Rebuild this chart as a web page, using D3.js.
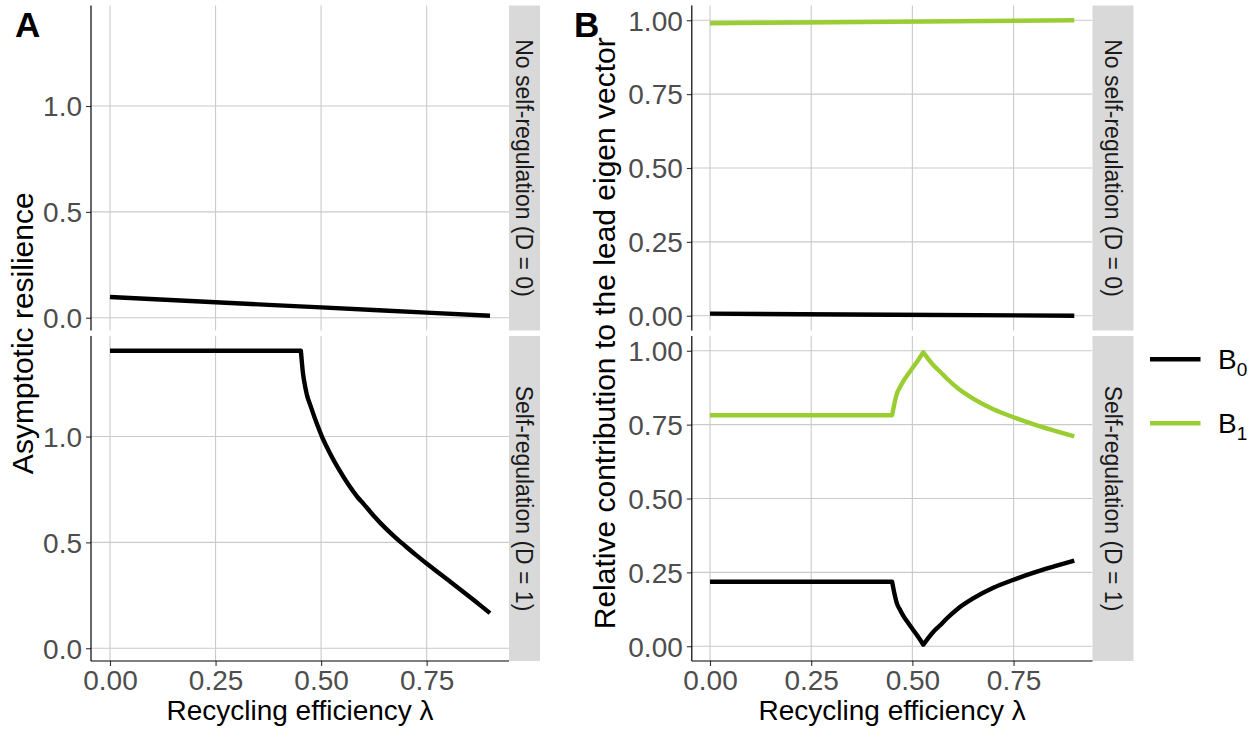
<!DOCTYPE html>
<html>
<head>
<meta charset="utf-8">
<script src="https://cdn.jsdelivr.net/npm/d3@7"></script>
<style>
  html, body { margin: 0; padding: 0; background: #fff; }
  svg { display: block; font-family: "Liberation Sans", Arial, Helvetica, sans-serif; }
</style>
</head>
<body>
<svg id="chart" width="1257" height="729"></svg>
<script>
// ---------------- DATA ----------------
const xTicks = [0, 0.25, 0.5, 0.75];
const xTickLabels = ["0.00", "0.25", "0.50", "0.75"];
const yTicksA = [0, 0.5, 1.0];
const yTickLabelsA = ["0.0", "0.5", "1.0"];
const yTicksB = [0, 0.25, 0.5, 0.75, 1.0];
const yTickLabelsB = ["0.00", "0.25", "0.50", "0.75", "1.00"];
const facetLabels = ["No self-regulation (D = 0)", "Self-regulation (D = 1)"];
const seriesNames = ["B0", "B1"];
const seriesColors = ["#000000", "#9ACD32"];

// Panel A, D = 0 (asymptotic resilience)
const lambdaA0 = [0, 0.25, 0.5, 0.75, 0.9];
const resilienceA0 = [0.098, 0.073, 0.049, 0.024, 0.0095];
// Panel A, D = 1
const lambdaA1 = [0, 0.452, 0.454, 0.457, 0.46, 0.466, 0.476, 0.49, 0.502, 0.52, 0.544, 0.565, 0.587, 0.6, 0.625, 0.65, 0.675, 0.7, 0.725, 0.75, 0.775, 0.8, 0.825, 0.85, 0.875, 0.9];
const resilienceA1 = [1.405, 1.405, 1.36, 1.30, 1.26, 1.20, 1.139, 1.06, 1.0, 0.925, 0.839, 0.772, 0.712, 0.683, 0.625, 0.572, 0.525, 0.482, 0.44, 0.40, 0.361, 0.323, 0.285, 0.246, 0.206, 0.166];
// kinks (lambda values) where the curve changes regime
const breaksA1 = [0.452];

// Panel B, D = 0 (relative contribution)
const lambdaB0 = [0, 0.45, 0.9];
const b0D0 = [0.007, 0.0035, 0.0];
const b1D0 = [0.99, 0.995, 1.0];
// Panel B, D = 1
const lambdaB1 = [0, 0.45, 0.453, 0.457, 0.461, 0.47, 0.478, 0.49, 0.502, 0.515, 0.527, 0.54, 0.552, 0.568, 0.585, 0.613, 0.65, 0.7, 0.75, 0.8, 0.85, 0.9];
const b0D1 = [0.218, 0.218, 0.196, 0.170, 0.148, 0.122, 0.102, 0.078, 0.055, 0.030, 0.005, 0.029, 0.049, 0.070, 0.094, 0.128, 0.162, 0.198, 0.225, 0.249, 0.270, 0.290];
const b1D1 = [0.782, 0.782, 0.804, 0.830, 0.852, 0.878, 0.898, 0.922, 0.945, 0.970, 0.995, 0.971, 0.951, 0.930, 0.906, 0.872, 0.838, 0.802, 0.775, 0.751, 0.730, 0.710];
const breaksB1 = [0.45, 0.527];

// ---------------- LAYOUT ----------------
const svg = d3.select("#chart");
const rows = [{top: 5.5, bottom: 330.5}, {top: 336, bottom: 661}];
const FS_TICK = 28, FS_XTITLE = 28, FS_YTITLE = 30, FS_STRIP = 23, FS_TAG = 35;
const GRID = "#CACACA", TICKC = "#333333", TICKTXT = "#4D4D4D", STRIP = "#D9D9D9";

function expandDomain(vals) {
  const e = d3.extent(vals);
  const pad = (e[1] - e[0]) * 0.05;
  return [e[0] - pad, e[1] + pad];
}

// split a series into pieces at kink positions, so each piece is smoothed on its own
function pieces(xs, ys, breaks) {
  const pts = d3.zip(xs, ys);
  if (!breaks || !breaks.length) return [pts];
  const out = [];
  let cur = [];
  pts.forEach(p => {
    cur.push(p);
    if (breaks.some(b => Math.abs(b - p[0]) < 1e-9)) { out.push(cur); cur = [p]; }
  });
  if (cur.length > 1) out.push(cur);
  return out;
}

function drawBlock(cfg) {
  const xScale = d3.scaleLinear().domain(expandDomain(cfg.allX)).range([cfg.left, cfg.right]);
  const g = svg.append("g");
  cfg.panels.forEach((p, i) => {
    const r = rows[i];
    const yScale = d3.scaleLinear().domain(expandDomain(cfg.allY)).range([r.bottom, r.top]);
    const pg = g.append("g");
    pg.selectAll(".gy").data(cfg.yTicks).enter().append("line")
      .attr("x1", cfg.left).attr("x2", cfg.right)
      .attr("y1", d => yScale(d)).attr("y2", d => yScale(d))
      .attr("stroke", GRID).attr("stroke-width", 1.1);
    pg.selectAll(".gx").data(xTicks).enter().append("line")
      .attr("y1", r.top).attr("y2", r.bottom)
      .attr("x1", d => xScale(d)).attr("x2", d => xScale(d))
      .attr("stroke", GRID).attr("stroke-width", 1.1);
    const yAxis = d3.axisLeft(yScale).tickValues(cfg.yTicks)
      .tickFormat((d, k) => cfg.yTickLabels[k]).tickSize(5).tickPadding(4);
    const ya = pg.append("g").attr("transform", `translate(${cfg.left},0)`).call(yAxis);
    ya.select(".domain").remove();
    ya.selectAll(".tick line").attr("stroke", TICKC).attr("stroke-width", 1.1);
    ya.selectAll(".tick text").attr("fill", TICKTXT).attr("font-size", FS_TICK)
      .attr("font-family", "Liberation Sans, Arial, sans-serif").attr("dy", "0.35em");
    pg.append("line").attr("x1", cfg.left).attr("x2", cfg.left)
      .attr("y1", r.top).attr("y2", r.bottom).attr("stroke", "#000").attr("stroke-width", 1.2);
    p.series.forEach(s => {
      const line = d3.line().x(d => xScale(d[0])).y(d => yScale(d[1])).curve(d3.curveMonotoneX);
      const segs = pieces(s.x, s.y, s.breaks);
      const path = segs.map(seg => line(seg)).join("");
      pg.append("path").attr("d", path.replace(/M/g, (m, off) => off === 0 ? "M" : "L"))
        .attr("fill", "none").attr("stroke", s.color).attr("stroke-width", 4.4)
        .attr("stroke-linejoin", "round").attr("stroke-linecap", "butt");
    });
    pg.append("rect").attr("x", cfg.right).attr("y", r.top)
      .attr("width", cfg.stripW).attr("height", r.bottom - r.top).attr("fill", STRIP);
    const cx = cfg.right + cfg.stripW / 2, cy = (r.top + r.bottom) / 2;
    pg.append("text").attr("transform", `translate(${cx},${cy}) rotate(90)`)
      .attr("text-anchor", "middle").attr("dy", "0.35em")
      .attr("font-size", FS_STRIP).attr("fill", "#1A1A1A").text(facetLabels[i]);
    if (i === rows.length - 1) {
      const xAxis = d3.axisBottom(xScale).tickValues(xTicks)
        .tickFormat((d, k) => xTickLabels[k]).tickSize(5).tickPadding(4);
      const xa = pg.append("g").attr("transform", `translate(0,${r.bottom})`).call(xAxis);
      xa.select(".domain").remove();
      xa.selectAll(".tick line").attr("stroke", TICKC).attr("stroke-width", 1.1);
      xa.selectAll(".tick text").attr("fill", TICKTXT).attr("font-size", FS_TICK)
        .attr("font-family", "Liberation Sans, Arial, sans-serif").attr("dy", "0.72em");
      pg.append("line").attr("x1", cfg.left).attr("x2", cfg.right)
        .attr("y1", r.bottom).attr("y2", r.bottom).attr("stroke", "#000").attr("stroke-width", 1.2);
    }
  });
  svg.append("text").attr("x", (cfg.left + cfg.right) / 2).attr("y", 720)
    .attr("text-anchor", "middle").attr("font-size", FS_XTITLE).attr("fill", "#000")
    .text("Recycling efficiency λ");
  svg.append("text").attr("transform", `translate(${cfg.yTitleX},${(rows[0].top + rows[1].bottom) / 2}) rotate(-90)`)
    .attr("text-anchor", "middle").attr("font-size", FS_YTITLE).attr("fill", "#000")
    .text(cfg.yTitle);
  svg.append("text").attr("x", cfg.tagX).attr("y", 37).attr("font-size", FS_TAG)
    .attr("font-weight", "bold").attr("fill", "#000").text(cfg.tag);
}

drawBlock({
  left: 91, right: 509, stripW: 31,
  allX: lambdaA0.concat(lambdaA1), allY: resilienceA0.concat(resilienceA1),
  yTicks: yTicksA, yTickLabels: yTickLabelsA,
  yTitle: "Asymptotic resilience", yTitleX: 33, tag: "A", tagX: 15,
  panels: [
    {series: [{x: lambdaA0, y: resilienceA0, color: "#000"}]},
    {series: [{x: lambdaA1, y: resilienceA1, color: "#000", breaks: breaksA1}]}
  ]
});

drawBlock({
  left: 691.8, right: 1092.5, stripW: 41,
  allX: lambdaB0.concat(lambdaB1), allY: b0D0.concat(b1D0, b0D1, b1D1),
  yTicks: yTicksB, yTickLabels: yTickLabelsB,
  yTitle: "Relative contribution to the lead eigen vector", yTitleX: 615, tag: "B", tagX: 574,
  panels: [
    {series: [{x: lambdaB0, y: b0D0, color: seriesColors[0]}, {x: lambdaB0, y: b1D0, color: seriesColors[1]}]},
    {series: [{x: lambdaB1, y: b0D1, color: seriesColors[0], breaks: breaksB1}, {x: lambdaB1, y: b1D1, color: seriesColors[1], breaks: breaksB1}]}
  ]
});

const legY = [359.3, 423.3];
const leg = svg.append("g");
seriesNames.forEach((name, i) => {
  leg.append("line").attr("x1", 1150).attr("x2", 1200.5)
    .attr("y1", legY[i]).attr("y2", legY[i])
    .attr("stroke", seriesColors[i]).attr("stroke-width", 4.6);
  const t = leg.append("text").attr("x", 1218).attr("y", legY[i] + 10)
    .attr("font-size", 28).attr("fill", "#000");
  t.append("tspan").text(name.charAt(0));
  t.append("tspan").attr("font-size", 19).attr("dy", 7).text(name.slice(1));
});
</script>
</body>
</html>
